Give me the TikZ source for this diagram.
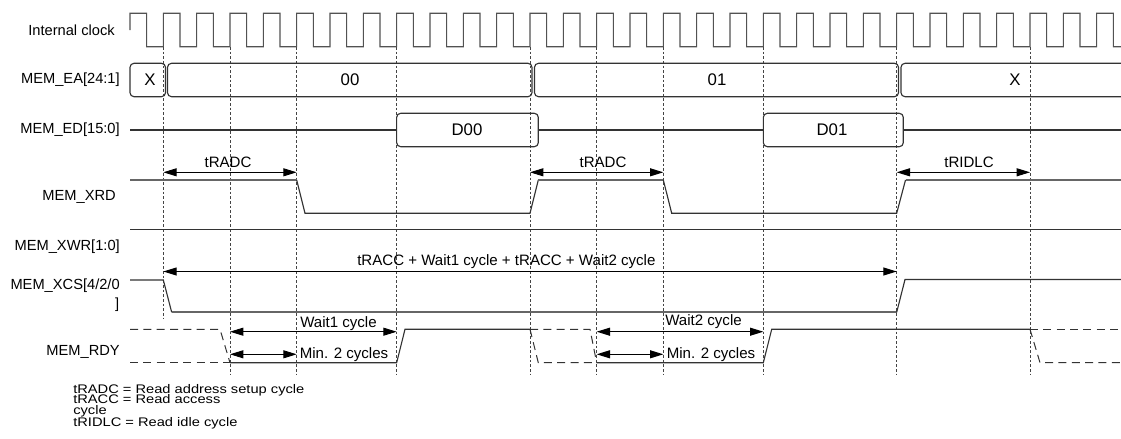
\documentclass[tikz,border=0pt]{standalone}
\usepackage{fontspec}
\setmainfont{Liberation Sans}
\usetikzlibrary{arrows.meta}
\definecolor{sig}{HTML}{333333}
\definecolor{gridc}{HTML}{444444}
\begin{document}
\begin{tikzpicture}[x=0.75pt,y=-0.75pt,
  sigline/.style={draw=sig,line width=0.85pt},
  heavysig/.style={draw=sig!75!white,line width=1.4pt},
  gridline/.style={draw=gridc,line width=0.55pt,dash pattern=on 2pt off 1.5pt},
  undef/.style={draw=sig,line width=0.75pt,dash pattern=on 6pt off 4pt},
  busbox/.style={draw=sig,line width=0.85pt,rounded corners=3pt},
  dim/.style={draw=black,line width=0.7pt,{Triangle[length=10pt,width=6pt]}-{Triangle[length=10pt,width=6pt]}},
  lbl/.style={anchor=east,inner sep=0pt,font=\fontsize{11}{12}\selectfont},
  txt/.style={inner sep=0pt,font=\fontsize{11.3}{12}\selectfont},
  datatxt/.style={inner sep=0pt,font=\fontsize{12.6}{14}\selectfont},
  legend/.style={anchor=base west,inner sep=0pt,font=\fontsize{11}{12}\selectfont},
]
\useasboundingbox (0,0) rectangle (1121,439);
\clip (0,0) rectangle (1121,439);

% grid lines
\foreach \x in {230,296.67,396.67,530,596.67,663.33,763.33,896.67,1030}
  \draw[gridline] (\x,47) -- (\x,374);
\draw[gridline] (163.33,47) -- (163.33,318);

% signal labels
\node[lbl] (lclk) at (115,30) {Internal clock};
\node[lbl] (lea) at (120,80) {MEM\_EA[24:1]};
\node[lbl] (led) at (120,130) {MEM\_ED[15:0]};
\node[lbl] (lxrd) at (116,196.7) {MEM\_XRD};
\node[lbl] (lxwr) at (120,246.7) {MEM\_XWR[1:0]};
\node[lbl] (lxcs) at (120,285.5) {MEM\_XCS[4/2/0};
\node[lbl] (lxcs2) at (119.5,305) {]};
\node[lbl] (lrdy) at (120,351.7) {MEM\_RDY};

% internal clock
\draw[sigline,draw=sig!85!white,line join=miter] (130,30) -- (130,13.3) -- (146.67,13.3) -- (146.67,46.7) -- (163.33,46.7)
  \foreach \k in {0,...,27} { -- ({163.333+33.333*\k},13.3) -- ({180+33.333*\k},13.3) -- ({180+33.333*\k},46.7) -- ({196.667+33.333*\k},46.7) }
  -- (1096.67,13.3) -- (1113.33,13.3) -- (1113.33,46.7) -- (1121,46.7);

% MEM_EA bus
\draw[busbox] (130,63.3) rectangle (165.5,96.7);
\draw[busbox] (167.5,63.3) rectangle (532,96.7);
\draw[busbox] (534.5,63.3) rectangle (898.5,96.7);
\draw[busbox] (1135,63.3) -- (901,63.3) -- (901,96.7) -- (1135,96.7);
\node[datatxt] (eax0) at (150,80) {X};
\node[datatxt] (ea00) at (350,80) {00};
\node[datatxt] (ea01) at (717,80) {01};
\node[datatxt] (eax1) at (1015,80) {X};

% MEM_ED bus
\draw[sigline] (130,130) -- (396.67,130);
\draw[busbox] (396.67,113.3) rectangle (538.3,146.7);
\draw[sigline] (538.3,130) -- (763.33,130);
\draw[busbox] (763.33,113.3) rectangle (903.3,146.7);
\draw[sigline] (903.3,130) -- (1121,130);
\node[datatxt] (d00) at (467,130) {D00};
\node[datatxt] (d01) at (832,130) {D01};

% MEM_XRD
\draw[heavysig] (130,180) -- (296.67,180);
\draw[sigline] (296.67,180) -- (305,213.3) -- (530,213.3) -- (538.3,180);
\draw[heavysig] (538.3,180) -- (663.33,180);
\draw[sigline] (663.33,180) -- (671.7,213.3) -- (896.67,213.3) -- (905.5,180);
\draw[heavysig] (905.5,180) -- (1121,180);

% tRADC / tRIDLC dimensions
\coordinate (r1a) at (163.33,172.3);
\coordinate (r1b) at (296.67,172.3);
\coordinate (r2a) at (530,172.3);
\coordinate (r2b) at (663.33,172.3);
\coordinate (r3a) at (896.67,172.3);
\coordinate (r3b) at (1030,172.3);
\draw[dim] (r1a) -- (r1b);
\draw[dim] (r2a) -- (r2b);
\draw[dim] (r3a) -- (r3b);
\node[txt] (tr1) at (228,162.7) {tRADC};
\node[txt] (tr2) at (603,162.7) {tRADC};
\node[txt] (tr3) at (969,162.7) {tRIDLC};

% MEM_XWR
\draw[sigline] (130,229.3) -- (1121,229.3);

% MEM_XCS
\draw[sigline] (130,280) -- (163.33,280) -- (171.7,312.3);
\draw[heavysig] (171.7,312.3) -- (896.67,312.3);
\draw[sigline] (896.67,312.3) -- (905,279.5) -- (1121,279.5);
\coordinate (ca) at (163.33,271.5);
\coordinate (cb) at (896.67,271.5);
\draw[dim] (ca) -- (cb);
\node[txt,anchor=west] (tacc) at (357,261.7) {tRACC + Wait1 cycle + tRACC + Wait2 cycle};

% MEM_RDY
\draw[undef] (130,329.3) -- (220,329.3) -- (230,362.7);
\draw[undef] (130,362.7) -- (230,362.7);
\draw[sigline] (230,362.7) -- (396.67,362.7) -- (405,329.3) -- (530,329.3);
\draw[undef] (530,329.3) -- (590,329.3) -- (596.67,362.7);
\draw[undef] (530,329.3) -- (538.3,362.7) -- (596.67,362.7);
\draw[sigline] (596.67,362.7) -- (763.33,362.7) -- (771.7,329.3) -- (1030,329.3);
\draw[undef] (1030,329.3) -- (1121,329.3);
\draw[undef] (1030,329.3) -- (1040,362.7) -- (1121,362.7);

\coordinate (w1a) at (230,331.7);
\coordinate (w1b) at (396.67,331.7);
\coordinate (m1a) at (230,354.3);
\coordinate (m1b) at (296.67,354.3);
\coordinate (w2a) at (596.67,331.7);
\coordinate (w2b) at (763.33,331.7);
\coordinate (m2a) at (596.67,354.3);
\coordinate (m2b) at (663.33,354.3);
\draw[dim] (w1a) -- (w1b);
\draw[dim] (m1a) -- (m1b);
\draw[dim] (w2a) -- (w2b);
\draw[dim] (m2a) -- (m2b);
\node[txt,anchor=west] (tw1) at (300,323.5) {Wait1 cycle};
\node[txt,anchor=west] (tm1) at (299.5,354.3) {Min. 2 cycles};
\node[txt,anchor=west] (tw2) at (665,321.2) {Wait2 cycle};
\node[txt,anchor=west] (tm2) at (666.5,354.3) {Min. 2 cycles};

% legend
\node[legend] (lg1) at (73,393.5) {\scalebox{1}[0.85]{tRADC = Read address setup cycle}};
\node[legend] (lg2) at (73,403) {\scalebox{1}[0.85]{tRACC = Read access}};
\node[legend] (lg3) at (73,414.3) {\scalebox{1}[0.85]{cycle}};
\node[legend] (lg4) at (73,426.5) {\scalebox{1}[0.85]{tRIDLC = Read idle cycle}};
\end{tikzpicture}
\end{document}
